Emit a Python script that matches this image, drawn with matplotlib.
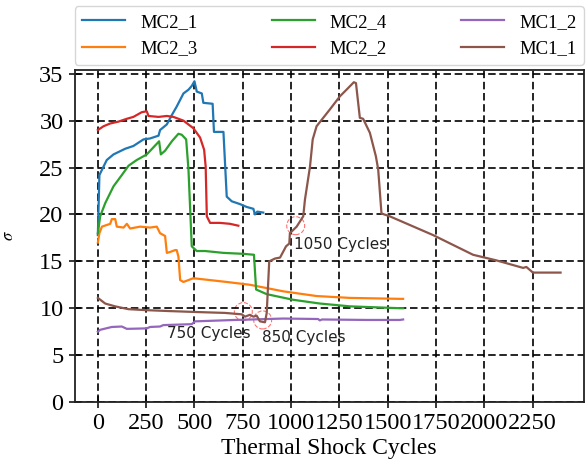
import numpy as np
import matplotlib
matplotlib.use("Agg")
from matplotlib import pyplot as plt
from matplotlib.patches import Ellipse

# values
mc2_1_x = [0, 8, 46, 81, 141, 184, 236, 270, 314, 322, 357, 383, 408, 443, 469, 486, 500,
           512, 538, 546, 594, 601, 650, 667, 693, 736, 770, 805, 813, 825, 856]
mc2_1_y = [17.8, 24.2, 25.8, 26.4, 27.0, 27.3, 28.0, 28.1, 28.4, 29.0, 29.6, 30.6, 31.5, 32.9, 33.3, 33.7, 34.2,
           33.1, 32.9, 31.9, 31.8, 28.8, 28.8, 21.9, 21.4, 21.1, 20.8, 20.6, 20.0, 20.3, 20.2]

mc2_3_x = [0, 8, 21, 64, 72, 90, 98, 133, 150, 167, 219, 270, 305, 322, 348, 357, 374, 400, 408, 417,
           426, 443, 494, 667, 787, 960, 1132, 1305, 1563, 1580]
mc2_3_y = [17.0, 18.0, 18.7, 19.0, 19.5, 19.5, 18.7, 18.6, 19.0, 18.5, 18.7, 18.6, 18.7, 18.0, 17.7, 15.9, 16.0, 16.2, 16.2, 15.5,
           13.0, 12.8, 13.2, 12.8, 12.5, 11.8, 11.3, 11.1, 11.0, 11.0]

mc2_4_x = [0, 12, 38, 81, 124, 159, 201, 253, 317, 326, 348, 383, 417, 434, 457, 469, 486,
           512, 555, 650, 753, 808, 819, 874, 1011, 1149, 1305, 1563, 1580]
mc2_4_y = [18.0, 19.8, 21.2, 23.0, 24.2, 25.2, 25.8, 26.4, 27.8, 26.4, 26.8, 27.8, 28.6, 28.5, 28.0, 24.8, 16.6,
           16.1, 16.1, 15.9, 15.8, 15.7, 12.0, 11.5, 10.9, 10.5, 10.2, 10.0, 10.0]

mc2_2_x = [0, 29, 64, 107, 150, 184, 227, 253, 262, 314, 357, 391, 443, 494, 529, 550, 558,
           564, 581, 632, 684, 727]
mc2_2_y = [29.0, 29.4, 29.7, 29.9, 30.2, 30.4, 30.9, 31.0, 30.5, 30.4, 30.5, 30.4, 30.0, 29.2, 28.2, 26.9, 25.1,
           19.8, 19.1, 19.1, 19.0, 18.8]

mc1_2_x = [0, 12, 72, 124, 150, 253, 270, 322, 339, 486, 503, 710, 796, 960, 1140, 1149, 1160,
           1391, 1563, 1580]
mc1_2_y = [7.5, 7.7, 8.0, 8.05, 7.8, 7.85, 8.0, 8.05, 8.2, 8.3, 8.6, 8.75, 8.8, 8.9, 8.85, 8.7, 8.8,
           8.75, 8.75, 8.8]

mc1_1_x = [0, 38, 89, 158, 245, 365, 503, 658, 745, 762, 787, 805, 822, 839, 865, 874, 887,
           917, 943, 974, 991, 994, 1029, 1063, 1072, 1098, 1112, 1132, 1201, 1253, 1287, 1325,
           1336, 1356, 1373, 1408, 1439, 1451, 1468, 1511, 1735, 1942, 2063, 2201, 2218, 2252,
           2338, 2395]
mc1_1_y = [11.1, 10.5, 10.2, 9.9, 9.8, 9.7, 9.6, 9.5, 9.35, 9.1, 9.3, 9.1, 9.2, 8.6, 8.5, 9.5, 15.0,
           15.3, 15.4, 16.6, 16.9, 18.0, 18.7, 19.8, 21.6, 25.1, 28.0, 29.4, 31.2, 32.6, 33.3, 34.1,
           34.0, 30.3, 30.2, 28.7, 26.2, 24.8, 20.1, 19.8, 17.8, 15.7, 15.1, 14.3, 14.4, 13.8,
           13.8, 13.8]

series = [
    ("MC2_1", mc2_1_x, mc2_1_y),
    ("MC2_3", mc2_3_x, mc2_3_y),
    ("MC2_4", mc2_4_x, mc2_4_y),
    ("MC2_2", mc2_2_x, mc2_2_y),
    ("MC1_2", mc1_2_x, mc1_2_y),
    ("MC1_1", mc1_1_x, mc1_1_y),
]

# marked transitions on MC1_1
mark_cycles = [753, 853, 1024]
mark_sigma = [9.64, 8.75, 18.8]
note_labels = ["750 Cycles", "850 Cycles", "1050 Cycles"]
note_x = [357, 848, 1017]
note_y = [7.26, 6.9, 16.75]

plt.rcParams['font.family'] = 'serif'
plt.rcParams['font.serif'] = ['Liberation Serif', 'DejaVu Serif']
plt.rcParams['mathtext.fontset'] = 'stix'

fig = plt.figure(figsize=(5.87, 4.68), dpi=100)
ax = fig.add_axes([0.1273, 0.141, 0.8671, 0.7094])

for name, xs, ys in series:
    ax.plot(xs, ys, label=name, linewidth=1.6)

# dashed circles around the marked points
for cx, cy in zip(mark_cycles, mark_sigma):
    ax.add_patch(Ellipse((cx, cy), width=93, height=1.92, fill=False,
                         edgecolor='red', linestyle='--', linewidth=0.8, alpha=0.55))

for lbl, tx, ty in zip(note_labels, note_x, note_y):
    ax.text(tx, ty, lbl, fontsize=11, family='DejaVu Sans', color='#222222',
            ha='left', va='center')

ax.set_ylim(0, 35.4)
ax.set_xticks(np.arange(0, 2251, 250))
ax.set_yticks(np.arange(0, 36, 5))
ax.grid(True, color='black', linestyle=(0, (4.5, 2.2)), linewidth=1.2)
ax.tick_params(direction='inout', length=9, width=1.1, labelsize=17.5)
for sp in ax.spines.values():
    sp.set_linewidth(1.3)
    sp.set_color('#222222')

ax.set_xlabel('Thermal Shock Cycles', fontsize=17, labelpad=3)
ax.set_ylabel(r'$\sigma$', fontsize=12, labelpad=16)

ax.legend(loc='lower left', bbox_to_anchor=(0, 1.015, 1, 0.2), mode='expand',
          ncol=3, borderaxespad=0, fontsize=13.5, handlelength=2.3)

fig.savefig('out.png', dpi=100)
